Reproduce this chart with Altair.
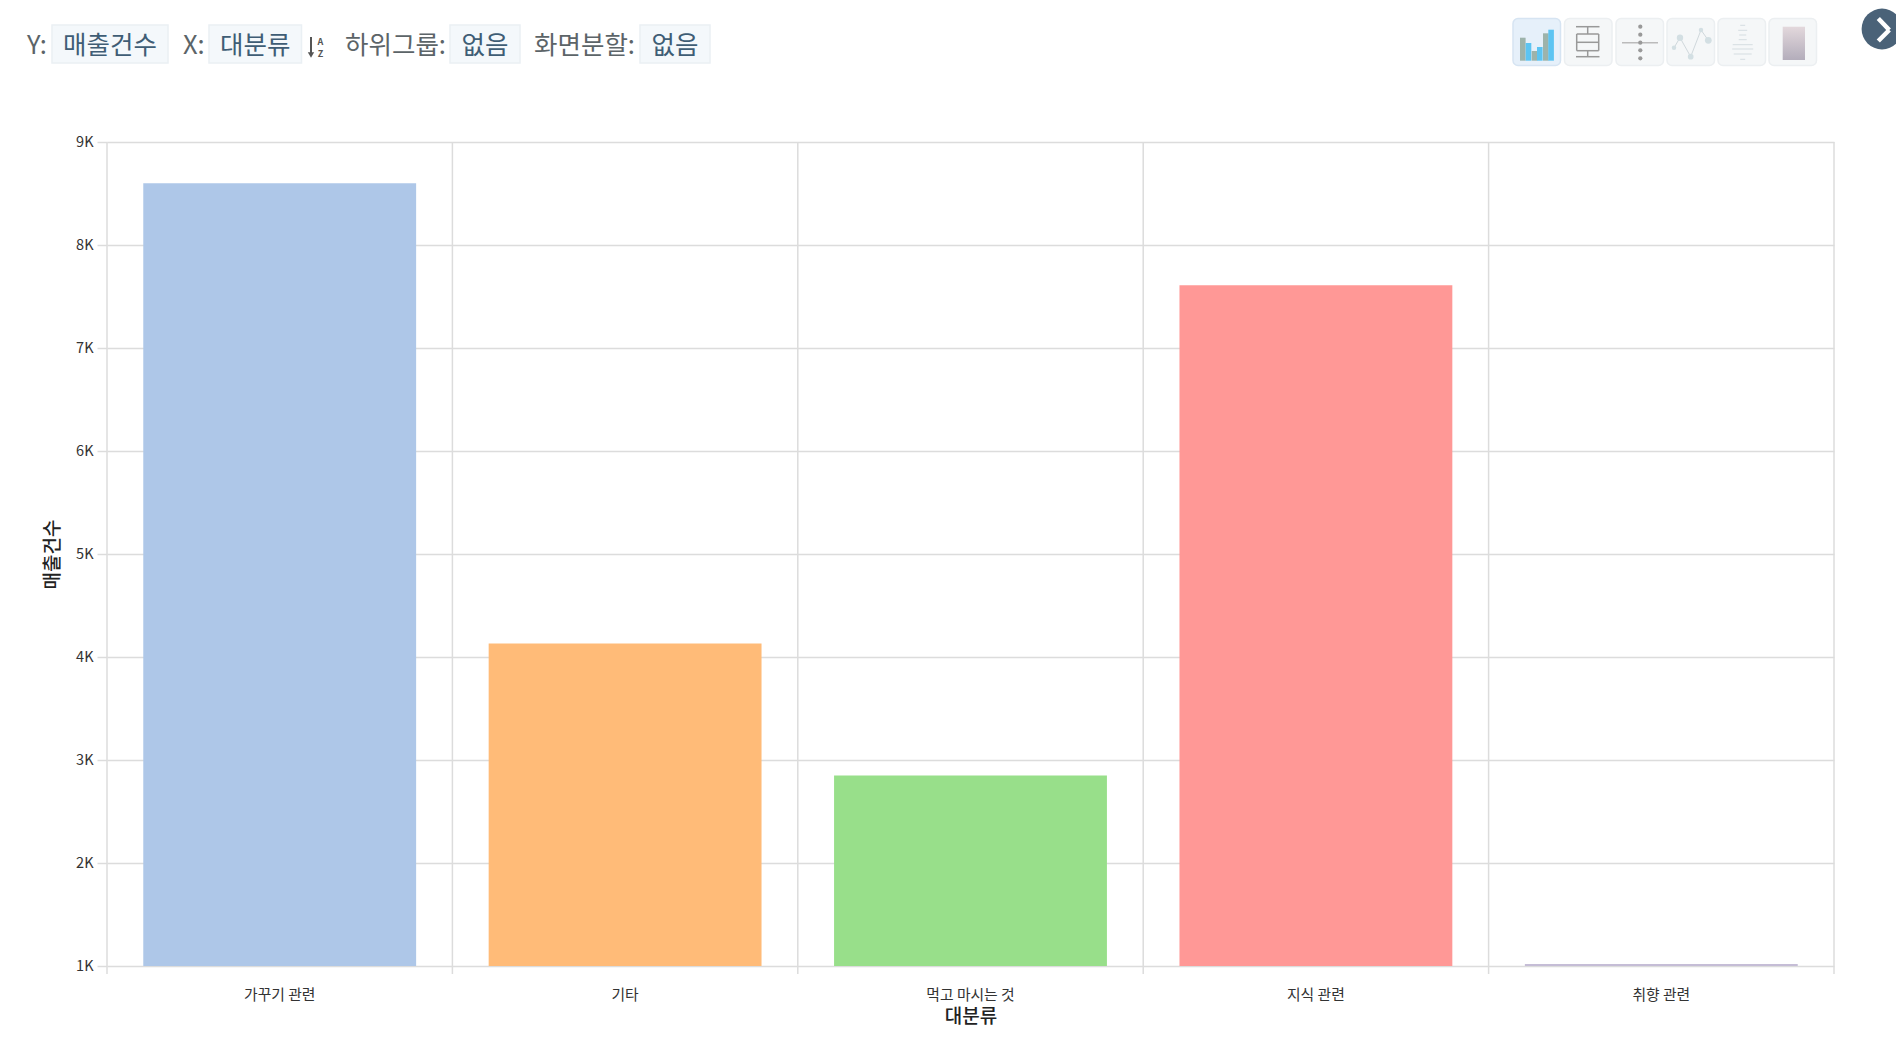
import altair as alt
import pandas as pd

# ---- chart values
categories = ["가꾸기 관련", "기타", "먹고 마시는 것", "지식 관련", "취향 관련"]
sales = [8600, 4130, 2850, 7610, 1020]
bar_colors = ["#aec7e8", "#ffbb78", "#98df8a", "#ff9896", "#c5bdd6"]
y_ticks = [1000, 2000, 3000, 4000, 5000, 6000, 7000, 8000, 9000]
y_title = "매출건수"
x_title = "대분류"

# ---- header texts
hdr_labels = ["Y:", "X:", "하위그룹:", "화면분할:"]
hdr_chips = ["매출건수", "대분류", "없음", "없음"]

W, H = 1727, 824
OX, OY = 107, 142   # page position of plot origin
FONT = "Noto Sans CJK KR"
GRID = "#dcdcdc"

df = pd.DataFrame({"cat": categories, "sales": sales})
one = alt.Data(values=[{"a": 1}])


def px(v):
    return alt.value(v - OX)


def py(v):
    return alt.value(v - OY)


def text(x, y, s, size, color, align="left", weight=400):
    return alt.Chart(one).mark_text(
        font=FONT, fontSize=size, color=color, align=align, baseline="middle", fontWeight=weight
    ).encode(x=px(x), y=py(y), text=alt.value(s))


def box(x1, y1, x2, y2, fill, stroke=None, radius=0, opacity=1.0):
    kw = dict(fill=fill, cornerRadius=radius, opacity=opacity)
    if stroke:
        kw.update(stroke=stroke, strokeWidth=1.5)
    return alt.Chart(one).mark_rect(**kw).encode(x=px(x1), x2=px(x2), y=py(y1), y2=py(y2))


def seg(x1, y1, x2, y2, color, w=1.5):
    return alt.Chart(one).mark_rule(color=color, strokeWidth=w).encode(
        x=px(x1), x2=px(x2), y=py(y1), y2=py(y2)
    )


def dot(x, y, r, color):
    return alt.Chart(one).mark_circle(color=color, opacity=1, size=3.1416 * r * r).encode(x=px(x), y=py(y))


# ---- plot
x_axis = alt.Axis(
    title=x_title, titleFont=FONT, titleFontSize=19, titleFontWeight=500, titleColor="#222",
    titleY=50, titleBaseline="middle", labelFont=FONT, labelFontSize=14.8, labelColor="#333",
    labelAngle=0, labelPadding=21, ticks=False, domain=False, grid=False, bandPosition=0.5,
)
bars = alt.Chart(df).mark_bar(clip=True, width=alt.RelativeBandSize(band=0.79)).encode(
    x=alt.X(
        "cat:N",
        sort=categories,
        scale=alt.Scale(paddingInner=0, paddingOuter=0),
        axis=x_axis,
    ),
    y=alt.Y(
        "sales:Q",
        scale=alt.Scale(domain=[1000, 9000], zero=False, nice=False),
        axis=alt.Axis(
            title=y_title, titleFont=FONT, titleFontSize=19, titleFontWeight=500, titleColor="#222",
            titlePadding=13, labelFont=FONT, labelFontSize=14.5, labelColor="#333", labelPadding=4,
            tickSize=10, tickColor=GRID, tickWidth=1.5, domain=False, grid=True, gridColor=GRID,
            gridWidth=1.5, values=y_ticks, labelExpr="datum.value / 1000 + 'K'",
        ),
    ),
    color=alt.Color("cat:N", sort=categories, scale=alt.Scale(domain=categories, range=bar_colors), legend=None),
)
bands = alt.Chart(df).mark_rule(color=GRID, strokeWidth=1.5).encode(
    x=alt.X("cat:N", bandPosition=0, sort=categories, axis=x_axis),
    y=alt.value(0),
    y2=alt.value(H + 8),
)
last_band = alt.Chart(one).mark_rule(color=GRID, strokeWidth=1.5).encode(
    x=alt.value(W), y=alt.value(0), y2=alt.value(H + 8)
)

layers = [bars, bands, last_band]

# ---- header controls
CHIP_F, CHIP_S = "#f4f8fb", "#eaf0f4"
LBL = "#5c6468"
CHIP_T = "#3f5d75"
for lab, x in zip(hdr_labels, [27, 183, 345, 534]):
    layers.append(text(x, 45.5, lab, 25.5, LBL))
for chip, (x1, x2) in zip(hdr_chips, [(52, 168), (209, 301.5), (450, 520), (640, 710)]):
    layers.append(box(x1, 25, x2, 63, CHIP_F, CHIP_S))
    layers.append(text((x1 + x2) / 2, 45.5, chip, 25.5, CHIP_T, align="center"))

# sort icon
layers.append(seg(311, 37, 311, 55, "#555", 2))
layers.append(alt.Chart(one).mark_point(shape="triangle-down", filled=True, color="#555", opacity=1, size=40).encode(x=px(311), y=py(55)))
layers.append(text(320.5, 41.5, "A", 9, "#555", align="center", weight=700))
layers.append(text(320.5, 54, "Z", 9, "#555", align="center", weight=700))

# toolbar buttons
for i, x in enumerate([1513, 1564.5, 1616, 1667, 1718, 1769]):
    fill, stroke = ("#e6f0fa", "#d6e4f2") if i == 0 else ("#f5f7f8", "#eceff1")
    layers.append(box(x, 18.5, x + 47.5, 65.5, fill, stroke, radius=5))

# bar icon
GB, BB = "#9db3ab", "#5cc4f2"
for x1, top, c in [(1520, 37.7, GB), (1525.7, 43, BB), (1531.7, 51, GB), (1537, 47, BB), (1543, 33.3, GB), (1548.3, 29.7, BB)]:
    layers.append(box(x1, top, x1 + 5.6, 60.7, c))

# box icon
G2 = "#999999"
layers += [
    seg(1576, 26.7, 1599.5, 26.7, G2), seg(1587.7, 26.7, 1587.7, 34, G2),
    seg(1576.7, 34, 1598.7, 34, G2), seg(1576.7, 34, 1576.7, 50.7, G2), seg(1598.7, 34, 1598.7, 50.7, G2),
    seg(1576.7, 42.3, 1598.7, 42.3, G2), seg(1576.7, 50.7, 1598.7, 50.7, G2),
    seg(1587.7, 50.7, 1587.7, 56.7, G2), seg(1576, 56.7, 1599.5, 56.7, G2),
]

# strip icon
layers.append(seg(1622, 42.7, 1658, 42.7, "#bbbbbb"))
for y in [26.7, 34.7, 42.7, 50.3, 58.3]:
    layers.append(dot(1640.3, y, 2.4, "#999999"))

# line icon
L4 = [(1674, 47.7, 2.5), (1680, 37.7, 3.6), (1690.7, 56.7, 3.2), (1701, 30, 2.5), (1708.3, 40.3, 3.8)]
for a, b in zip(L4, L4[1:]):
    layers.append(seg(a[0], a[1], b[0], b[1], "#d0d8dc", 1))
for x, y, r in L4:
    layers.append(dot(x, y, r, "#d3dfe3"))

# violin icon
for y, w in [(25.3, 5), (30.3, 9), (35, 7), (39.7, 8), (44.7, 20), (49, 21), (54, 18), (59.3, 5)]:
    layers.append(seg(1742.7 - w / 2, y, 1742.7 + w / 2, y, "#d5dde1", 1))

# gradient icon
layers.append(
    alt.Chart(one).mark_rect(
        color=alt.Gradient(
            gradient="linear", x1=0, x2=0, y1=0, y2=1,
            stops=[alt.GradientStop(color="#e3d8dc", offset=0), alt.GradientStop(color="#b3adbb", offset=1)],
        )
    ).encode(x=px(1782.7), x2=px(1805), y=py(26.7), y2=py(60))
)

# round next button
layers.append(dot(1882, 29, 23, "#4a6278"))
layers.append(seg(1878.3, 18.5, 1889.3, 30, "#ffffff", 4.5))
layers.append(seg(1889.3, 30, 1878.3, 41, "#ffffff", 4.5))

chart = (
    alt.layer(*layers)
    .properties(
        width=W,
        height=H,
        autosize=alt.AutoSizeParams(type="none"),
        padding={"left": OX - 8, "top": OY - 8, "right": 62, "bottom": 62},
    )
    .configure_view(stroke=None)
    .resolve_scale(color="independent")
)

chart.save("out.html", embed_options={"renderer": "svg", "actions": False})
